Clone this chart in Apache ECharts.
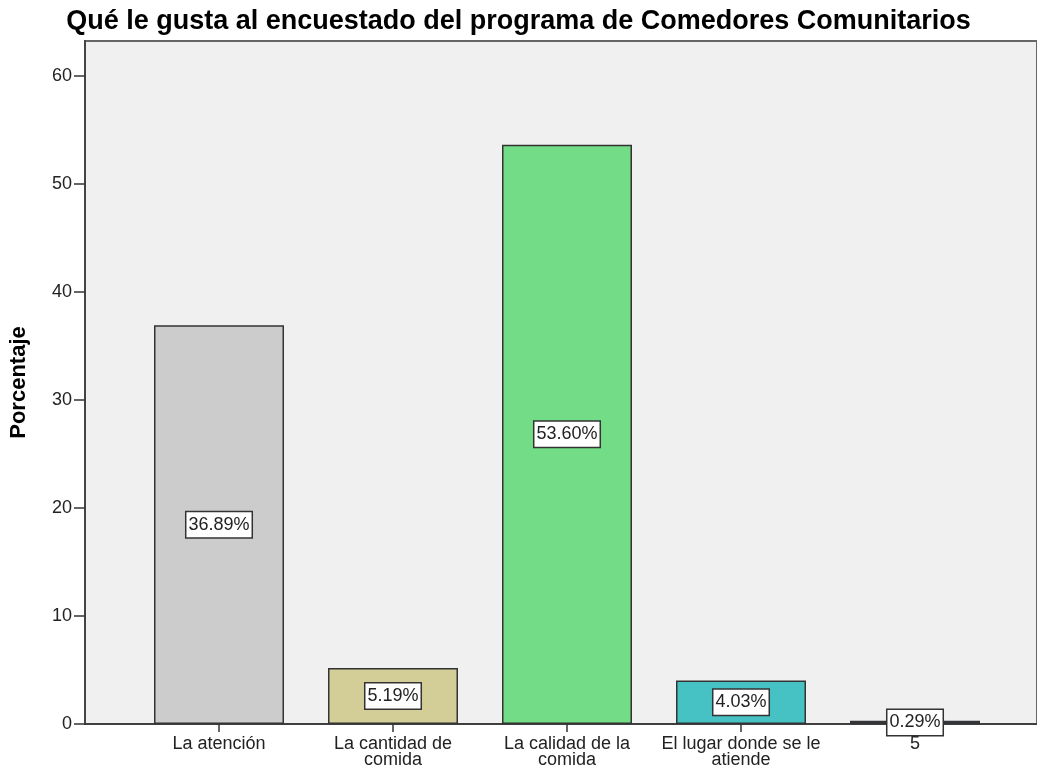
<!DOCTYPE html>
<html>
<head>
<meta charset="utf-8">
<script src="https://cdn.jsdelivr.net/npm/echarts@6/dist/echarts.min.js"></script>
<style>
  html, body { margin: 0; padding: 0; background: #fff; }
  #chart { width: 1037px; height: 774px; }
</style>
</head>
<body>
<div id="chart"></div>
<script>
  // datos
  var categorias = ['La atención', 'La cantidad de\ncomida', 'La calidad de la\ncomida', 'El lugar donde se le\natiende', '5']
  var porcentajes = [36.89, 5.19, 53.60, 4.03, 0.29]
  var marcasY = [0, 10, 20, 30, 40, 50, 60]

  var colores = ['#cccccc', '#d3ce97', '#72dd86', '#46c1c4', '#2f4b68']
  var fuente = '"Liberation Sans", Arial, sans-serif'

  var chart = echarts.init(document.getElementById('chart'))

  chart.setOption({
    animation: false,
    textStyle: { fontFamily: fuente },
    title: {
      text: 'Qué le gusta al encuestado del programa de Comedores Comunitarios',
      left: 'center',
      top: 3,
      textStyle: { fontSize: 27, fontWeight: 'bold', color: '#000', fontFamily: fuente }
    },
    grid: [
      // marco del area de trazado
      { left: 83, right: -3, top: 41, bottom: 50, show: true, backgroundColor: '#f0f0f0', borderColor: '#666', borderWidth: 2 },
      // barras
      { left: 132, right: 35, top: 41, bottom: 50 }
    ],
    xAxis: [
      {
        gridIndex: 0, type: 'value', min: 0, max: 1,
        axisLine: { show: true, lineStyle: { color: '#333', width: 1.5 } },
        axisTick: { show: false }, axisLabel: { show: false }, splitLine: { show: false }
      },
      {
        gridIndex: 1, type: 'category', data: categorias,
        axisLine: { show: false },
        axisTick: { show: true, alignWithLabel: true, length: 8, lineStyle: { color: '#333', width: 1.5 } },
        axisLabel: { interval: 0, fontSize: 18, color: '#222', lineHeight: 16, margin: 12 }
      }
    ],
    yAxis: [
      {
        gridIndex: 0, type: 'value', min: 0, max: 63.2,
        name: 'Porcentaje', nameLocation: 'middle', nameGap: 55, nameRotate: 90,
        nameTextStyle: { fontSize: 22, fontWeight: 'bold', color: '#000' },
        axisLine: { show: true, lineStyle: { color: '#444', width: 2 } },
        axisTick: { show: true, length: 11, customValues: marcasY, lineStyle: { color: '#333', width: 1.5 } },
        axisLabel: { customValues: marcasY, fontSize: 18, color: '#222', margin: 13 },
        splitLine: { show: false }
      },
      { gridIndex: 1, type: 'value', min: 0, max: 63.2, show: false }
    ],
    series: [{
      type: 'bar',
      xAxisIndex: 1,
      yAxisIndex: 1,
      barWidth: 130,
      data: porcentajes.map(function (v, i) {
        return { value: v, itemStyle: { color: colores[i] } }
      }),
      itemStyle: { borderColor: '#333', borderWidth: 1.5 },
      label: {
        show: true,
        position: 'inside',
        formatter: function (p) { return p.value.toFixed(2) + '%' },
        fontSize: 18,
        color: '#222',
        backgroundColor: '#fff',
        borderColor: '#333',
        borderWidth: 1.5,
        padding: [4, 2, 3, 2]
      }
    }]
  })
</script>
</body>
</html>
